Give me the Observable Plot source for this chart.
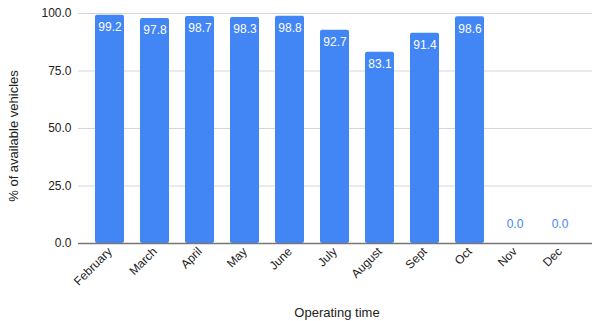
<!DOCTYPE html>
<html>
<head>
<meta charset="utf-8">
<script src="https://cdn.jsdelivr.net/npm/d3@7"></script>
<script src="https://cdn.jsdelivr.net/npm/@observablehq/plot@0.6"></script>
<style>
  html, body { margin: 0; padding: 0; background: #fff; }
  #chart svg { display: block; }
</style>
</head>
<body>
<div id="chart"></div>
<script>
const months = ["February", "March", "April", "May", "June", "July", "August", "Sept", "Oct", "Nov", "Dec"];
const values = [99.2, 97.8, 98.7, 98.3, 98.8, 92.7, 83.1, 91.4, 98.6, 0.0, 0.0];
const yTicks = [0, 25, 50, 75, 100];

const data = months.map((m, i) => ({month: m, value: values[i]}));
const blue = "#4285F4";
const font = "Liberation Sans, Arial, sans-serif";

const chart = Plot.plot({
  width: 592,
  height: 321,
  marginLeft: 78,
  marginRight: 0,
  marginTop: 13,
  marginBottom: 78,
  style: {fontFamily: font, fontSize: "12px", color: "#222"},
  x: {domain: months, padding: 0.35, label: null},
  y: {domain: [0, 100], label: null},
  marks: [
    Plot.gridY(yTicks, {stroke: "#d6d6d6", strokeOpacity: 1}),
    Plot.barY(data, {x: "month", y: "value", fill: blue, rx: 2}),
    Plot.ruleY([0], {stroke: "#777", strokeWidth: 1.5}),
    Plot.axisY(yTicks, {tickSize: 0, tickPadding: 7, tickFormat: d => d.toFixed(1), fontSize: 12, fill: "#222", label: null}),
    Plot.axisX({tickSize: 0, tickRotate: -45, tickPadding: 6, fontSize: 12, fill: "#222", label: null}),
    Plot.text(data.filter(d => d.value > 0), {x: "month", y: "value", text: d => d.value.toFixed(1), fill: "white", dy: 12, fontSize: 12, lineAnchor: "middle"}),
    Plot.text(data.filter(d => d.value === 0), {x: "month", y: "value", text: d => d.value.toFixed(1), fill: blue, dy: -19, fontSize: 12, lineAnchor: "middle"})
  ]
});

const svg = d3.select(chart);
// Axis titles
svg.append("text")
  .attr("x", (78 + 592) / 2 + 2)
  .attr("y", 314)
  .attr("text-anchor", "middle")
  .attr("dominant-baseline", "middle")
  .attr("font-family", font)
  .attr("font-size", 13)
  .attr("fill", "#222")
  .text("Operating time");
svg.append("text")
  .attr("transform", "translate(15,136) rotate(-90)")
  .attr("text-anchor", "middle")
  .attr("dominant-baseline", "middle")
  .attr("font-family", font)
  .attr("font-size", 13)
  .attr("fill", "#222")
  .text("% of available vehicles");

document.getElementById("chart").appendChild(chart);
</script>
</body>
</html>
